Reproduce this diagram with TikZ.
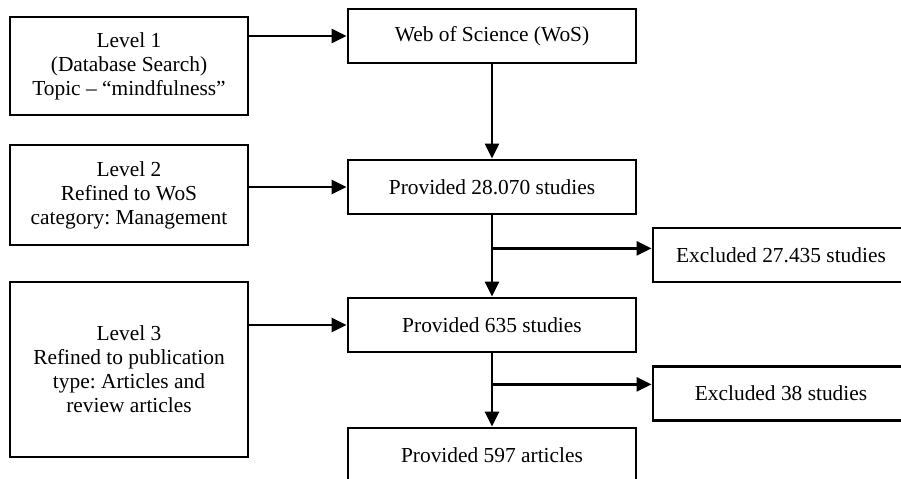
\documentclass[tikz,border=0pt]{standalone}
\usepackage{fontspec}
\setmainfont{Liberation Serif}
\usetikzlibrary{positioning,arrows.meta}
\frenchspacing

\begin{document}
\begin{tikzpicture}[x=0.5pt, y=-0.5pt, >={Triangle[length=7.5pt,width=7pt]}, node distance=15pt, every node/.style={font=\fontsize{10.7pt}{12pt}\selectfont}]
\tikzset{levelbox/.style={draw, line width=1.4pt, minimum width=119pt, align=center, inner sep=0pt},
  stagebox/.style={draw, line width=1.4pt, minimum width=144pt, minimum height=27pt, inner sep=0pt},
  exclbox/.style={draw, line width=1.4pt, minimum width=128pt, minimum height=27pt, inner sep=0pt},
  flow/.style={->, line width=1.4pt}}
\clip (0,0) rectangle (901,478);
% left column: search levels
\node[levelbox, minimum height=49pt] (lev1) at (129,66) {Level 1\\(Database Search)\\Topic – “mindfulness”};
\node[levelbox, minimum height=50pt, below=13.6pt of lev1] (lev2) {Level 2\\Refined to WoS\\category: Management};
\node[levelbox, minimum height=87.5pt, below=17.1pt of lev2] (lev3) {Level 3\\Refined to publication\\type: Articles and\\review articles};
% middle column: results
\node[stagebox] (web) at (492,36) {Web of Science (WoS)};
\node[stagebox, below=47.1pt of web] (prov1) {Provided 28.070 studies};
\node[stagebox, below=40.6pt of prov1] (prov2) {Provided 635 studies};
\node[stagebox, below=36.6pt of prov2] (prov3) {Provided 597 articles};
% right column: exclusions
\node[exclbox] (exc1) at (781,255) {Excluded 27.435 studies};
\node[exclbox] (exc2) at (781,393.5) {Excluded 38 studies};
\coordinate (cut1) at ([yshift=-16.5pt]prov1.south);
\coordinate (cut2) at ([yshift=-15.5pt]prov2.south);
\draw[flow] (lev1.east |- web) -- (web.west);
\draw[flow] (lev2.east |- prov1) -- (prov1.west);
\draw[flow] (lev3.east |- prov2) -- (prov2.west);
\draw[flow] (web) -- (prov1);
\draw[flow] (prov1) -- (prov2);
\draw[flow] (prov2) -- (prov3);
\draw[flow] (cut1) -- (cut1 -| exc1.west);
\draw[flow] (cut2) -- (cut2 -| exc2.west);
\end{tikzpicture}
\end{document}
